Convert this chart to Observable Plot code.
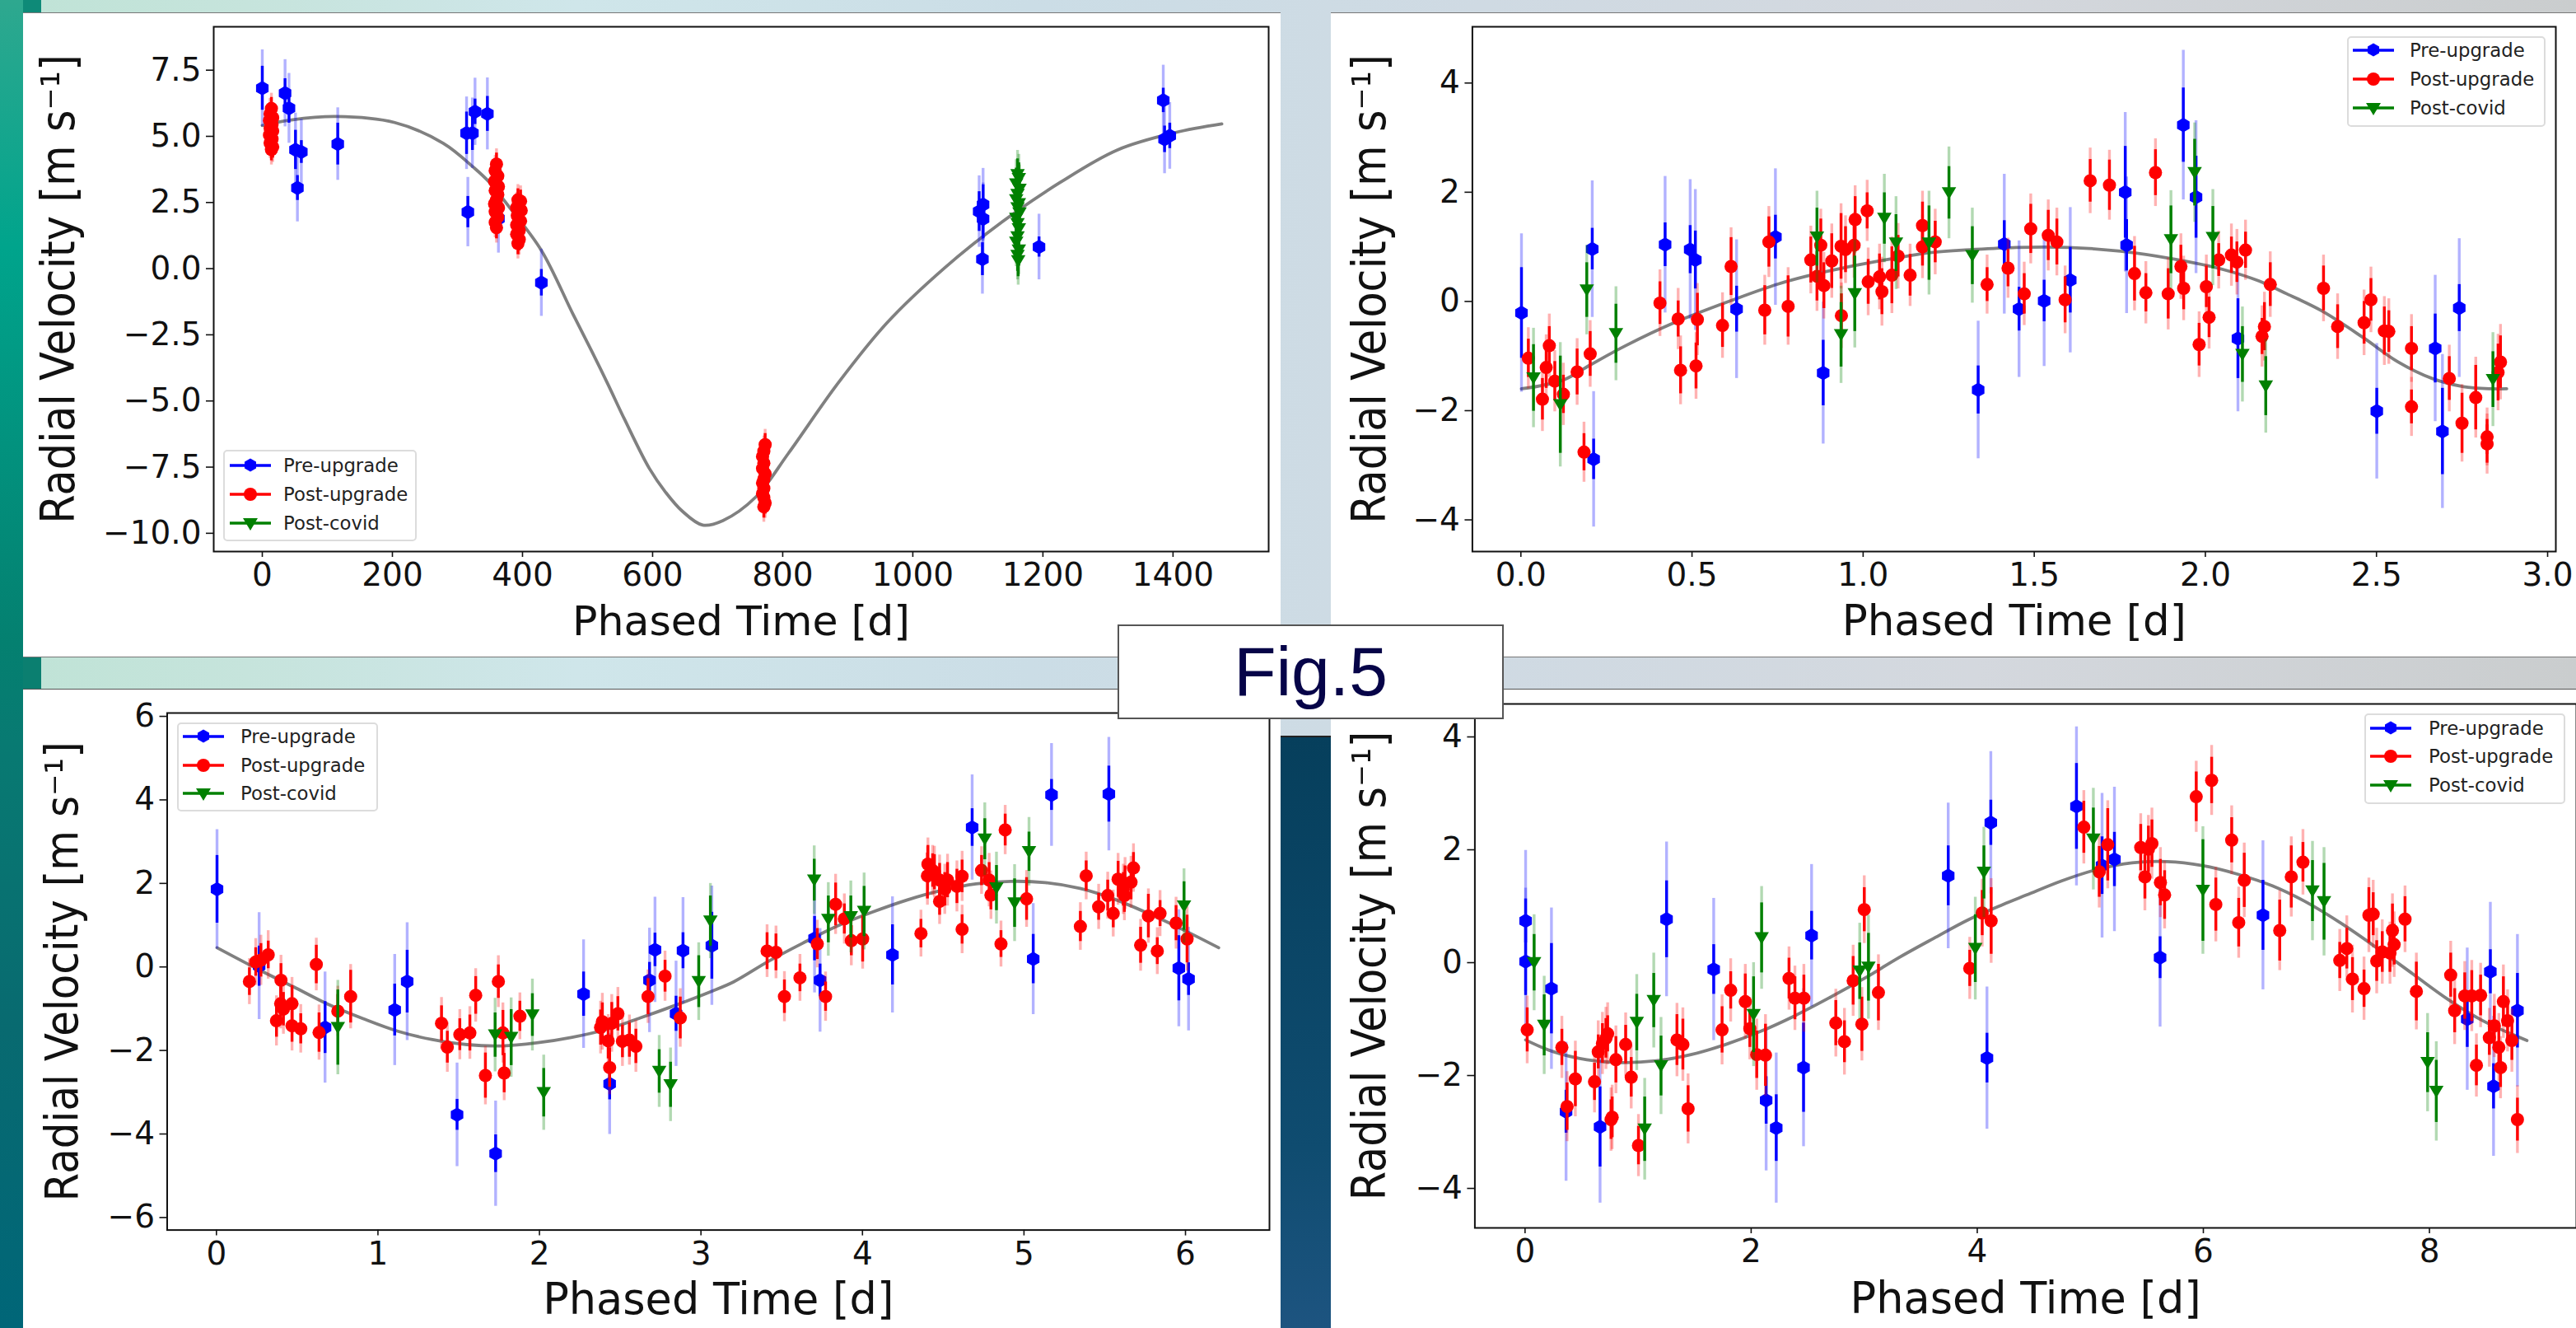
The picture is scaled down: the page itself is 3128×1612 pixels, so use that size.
<!DOCTYPE html>
<html>
<head>
<meta charset="utf-8">
<script src="https://cdn.jsdelivr.net/npm/d3@7"></script>
<script src="https://cdn.jsdelivr.net/npm/@observablehq/plot@0.6"></script>
<style>
html,body{margin:0;padding:0;background:#fff}
#page{position:relative;width:3128px;height:1612px;overflow:hidden;font-family:"DejaVu Sans",sans-serif}
.abs{position:absolute}
</style>
</head>
<body>
<div id="page"></div>
<script>
// ---------- Panel 1 (full orbit, days) ----------
const p1PreX=[0,35,41,51,60,54,116,314,323,327,346,316,363,429,1102,1108,1108,1107,1194,1385,1387,1395];
const p1PreY=[6.82,6.63,6.06,4.49,4.41,3.05,4.71,5.12,5.12,5.93,5.85,2.14,1.89,-0.53,2.16,2.42,1.88,0.36,0.82,6.36,4.89,5.02];
const p1PreIn=[.83,.55,.56,.74,.43,.47,.79,.8,.65,.48,.66,.59,.5,.5,.75,.75,.75,.62,.38,.46,.5,.48];
const p1PreOut=[1.45,1.27,1.32,1.39,1.24,1.28,1.37,1.37,1.33,1.27,1.36,1.31,1.3,1.27,1.35,1.37,1.36,1.32,1.24,1.33,1.3,1.26];
const p1PostX=[14,12,16,11,15,12,16,11,15,12,16,14, 360,358,362,357,363,358,362,360,357,363,358,362,358,360, 393,397,391,398,392,397,391,395,391,395,393, 773,771,769,771,769,773,771,769,771,769,771,773,771];
const p1PostY=[6.05,5.85,5.7,5.6,5.45,5.3,5.2,5.05,4.9,4.75,4.6,4.5, 3.95,3.7,3.5,3.3,3.1,2.95,2.8,2.6,2.45,2.3,2.15,1.95,1.75,1.55, 2.6,2.55,2.3,2.2,2.0,1.8,1.65,1.45,1.3,1.1,.95, -6.65,-6.9,-7.1,-7.35,-7.55,-7.75,-7.95,-8.1,-8.3,-8.5,-8.65,-8.85,-9.0];
const p1PostIn=p1PostY.map(()=>.42);
const p1PostOut=p1PostY.map(()=>.58);
const p1CovX=[1161,1163,1159,1164,1161,1159,1163,1161,1164,1159,1161,1163,1161,1159,1163,1161,1162];
const p1CovY=[3.55,3.4,3.2,3.0,2.8,2.6,2.45,2.3,2.1,1.9,1.7,1.5,1.2,1.0,.7,.5,.3];
const p1CovIn=p1CovY.map(()=>.6);
const p1CovOut=p1CovY.map(()=>.92);
const p1CurveX=[0,44.5,113.6,203.6,278,326,350,379,429,477,506,531,557,595,620,645,677,708,759,809,885,961,1049,1137,1226,1314,1403,1475];
const p1CurveY=[5.41,5.62,5.75,5.52,4.74,3.8,3.24,2.35,.69,-1.69,-3.1,-4.35,-5.7,-7.55,-8.45,-9.15,-9.69,-9.52,-8.62,-6.97,-4.33,-2.03,.03,1.76,3.25,4.48,5.14,5.47];

// ---------- Panel 2 (P = 2.9 d) ----------
const p2PreX=[0,.206,.21,.418,.491,.506,.626,.739,.878,1.329,1.405,1.448,1.521,1.597,1.757,1.761,1.926,1.963,2.085,2.489,2.659,2.68,2.729];
const p2PreY=[-.21,.96,-2.89,1.04,.95,.76,-.14,1.18,-1.31,-1.62,1.05,-.14,.01,.39,2.0,1.03,3.23,1.91,-.68,-2.01,-.86,-2.38,-.12];
const p2PreIn=[.83,.38,.37,.40,.44,.53,.42,.40,.6,.44,.43,.40,.38,.6,.84,.47,.68,.75,.73,.42,.63,.79,.43];
const p2PreOut=[1.45,1.25,1.24,1.25,1.28,1.29,1.27,1.25,1.3,1.26,1.28,1.25,1.2,1.33,1.46,1.25,1.37,1.40,1.34,1.24,1.34,1.41,1.27];
const p2PostX=[.02,.081,.072,.061,.097,.122,.162,.182,.2,.403,.456,.463,.512,.508,.585,.61,.708,.72,.776,.842,.86,.871,.88,.903,.931,.93,.943,.968,.971,1.006,1.009,1.042,1.049,1.078,1.096,1.131,1.167,1.167,1.204,1.355,1.416,1.463,1.582,1.482,1.533,1.558,1.655,1.711,1.845,1.784,1.817,1.882,1.919,1.927,1.993,1.972,2.001,2.029,2.066,2.082,2.107,2.179,2.155,2.162,2.334,2.375,2.452,2.472,2.511,2.524,2.59,2.59,2.7,2.737,2.777,2.81,2.81,2.842,2.849];
const p2PostY=[-1.04,-.81,-1.21,-1.79,-1.46,-1.70,-1.29,-2.76,-.96,-.03,-.32,-1.26,-.33,-1.18,-.44,.64,-.16,1.09,-.09,.76,.46,1.03,.29,.74,-.26,1.01,.95,1.03,1.5,1.66,.36,.45,.18,.48,.83,.48,1.39,1.0,1.09,.31,.61,.14,.03,1.33,1.21,1.09,2.21,2.13,2.36,.51,.16,.14,.64,.24,.27,-.79,-.29,.76,.85,.72,.94,.31,-.64,-.46,.24,-.46,-.39,.03,-.54,-.55,-.86,-1.93,-1.41,-2.23,-1.76,-2.48,-2.61,-1.3,-1.11];
const p2PostIn=[.35,.35,.38,.38,.36,.35,.42,.34,.41,.39,.33,.43,.48,.42,.40,.53,.45,.46,.56,.42,.45,.48,.42,.5,.4,.6,.42,.4,.42,.33,.41,.42,.42,.52,.38,.38,.43,.35,.38,.31,.34,.37,.42,.45,.46,.42,.39,.46,.42,.5,.35,.46,.39,.39,.38,.39,.37,.3,.33,.37,.33,.4,.33,.44,.41,.4,.39,.39,.44,.38,.4,.31,.4,.55,.59,.32,.35,.52,.48];
const p2PostOut=[.56,.58,.6,.59,.56,.57,.61,.55,.61,.61,.56,.63,.66,.61,.60,.71,.64,.65,.71,.62,.64,.66,.61,.68,.6,.78,.62,.6,.62,.56,.62,.6,.63,.70,.6,.57,.63,.58,.6,.54,.55,.58,.62,.64,.65,.62,.6,.64,.62,.68,.57,.66,.6,.59,.58,.6,.58,.53,.57,.6,.55,.6,.56,.63,.61,.6,.6,.6,.63,.6,.62,.54,.61,.71,.74,.53,.55,.7,.69];
const p2CovX=[.035,.19,.275,.113,.86,.93,.97,1.056,1.09,1.186,1.244,1.312,1.89,1.959,2.012,2.098,2.166,2.827];
const p2CovY=[-1.40,.21,-.59,-1.89,1.18,-.61,.14,1.52,1.07,1.07,1.99,.84,1.13,2.36,1.17,-.97,-1.55,-1.43];
const p2CovIn=[.61,.5,.54,.89,.53,.59,.69,.47,.52,.68,.48,.53,.62,.61,.57,.51,.54,.51];
const p2CovOut=[.91,.82,.86,1.14,.84,.89,.99,.81,.85,.95,.84,.87,.90,.91,.88,.87,.86,.86];
const p2CurveX=[0,.121,.202,.303,.444,.616,.747,.868,1.049,1.19,1.311,1.44,1.591,1.743,1.894,2.045,2.146,2.227,2.328,2.449,2.549,2.65,2.741,2.822,2.867];
const p2CurveY=[-1.6,-1.44,-1.155,-.81,-.39,.03,.32,.52,.75,.895,.95,.99,.99,.92,.78,.58,.375,.14,-.17,-.66,-1.10,-1.41,-1.56,-1.6,-1.6];

// ---------- Panel 3 (P = 6.2 d) ----------
const p3PreX=[0,.26,.667,1.097,1.174,1.482,1.72,2.263,2.424,2.67,2.704,2.877,2.834,3.055,3.689,3.723,4.17,4.662,5.152,5.506,5.039,5.938,5.998];
const p3PreY=[1.86,.02,-1.45,-1.03,-.35,-3.54,-4.47,-.65,-2.8,-.32,.41,.39,-1.12,.51,.68,-.32,.29,3.34,4.12,4.14,.19,-.03,-.29];
const p3PreIn=[.81,.48,.62,.62,.75,.37,.45,.53,.38,.43,.40,.43,.42,.8,.53,.39,.72,.45,.37,.67,.59,.78,.39];
const p3PreOut=[1.43,1.28,1.33,1.33,1.41,1.24,1.26,1.30,1.21,1.25,1.26,1.27,1.26,1.43,1.3,1.24,1.39,1.26,1.23,1.36,1.33,1.4,1.24];
const p3PostX=[.2,.239,.271,.316,.395,.393,.41,.463,.367,.463,.517,.613,.63,.746,.825,1.386,1.422,1.499,1.561,1.597,1.657,1.737,1.765,1.773,1.87,2.379,2.368,2.437,2.415,2.475,2.424,2.503,2.546,2.586,2.661,2.766,2.86,3.396,3.451,3.503,3.599,3.706,3.757,3.819,3.873,3.916,3.986,4.346,4.6,4.389,4.418,4.386,4.429,4.461,4.51,4.493,4.461,4.568,4.6,4.72,4.767,4.778,4.866,4.84,4.998,5.33,5.366,5.443,5.499,5.533,5.563,5.595,5.602,5.643,5.658,5.606,5.702,5.75,5.822,5.805,5.921,5.989];
const p3PostY=[-.35,.12,.16,.29,-.32,-.88,-1.01,-.88,-1.29,-1.41,-1.48,.06,-1.57,-1.06,-.71,-1.35,-1.92,-1.62,-1.58,-.68,-2.6,-.35,-1.58,-2.54,-1.18,-1.31,-1.45,-1.35,-1.77,-1.12,-2.41,-1.78,-1.75,-1.9,-.71,-.22,-1.22,.38,.35,-.71,-.26,.55,-.71,1.5,1.15,.63,.67,.8,.9,2.46,2.31,2.18,2.27,2.08,2.08,1.86,1.57,1.93,2.17,2.31,2.08,1.72,3.28,.55,1.63,.97,2.18,1.44,1.71,1.28,2.1,1.86,1.71,2.03,2.37,2.0,.52,1.22,1.28,.38,1.05,.67];
const p3PostIn=[.33,.34,.4,.33,.4,.4,.4,.43,.39,.39,.36,.46,.47,.4,.63,.42,.38,.38,.43,.45,.54,.4,.54,.47,.36,.45,.42,.5,.43,.41,.47,.39,.41,.41,.43,.38,.5,.44,.44,.4,.33,.37,.35,.51,.36,.36,.55,.34,.35,.45,.4,.55,.42,.4,.42,.4,.33,.41,.39,.36,.42,.35,.38,.32,.51,.36,.36,.32,.37,.34,.43,.4,.4,.42,.37,.42,.43,.52,.31,.32,.42,.57];
const p3PostOut=[.55,.56,.6,.58,.6,.6,.6,.63,.6,.6,.58,.63,.66,.6,.77,.62,.6,.6,.63,.64,.7,.62,.72,.66,.56,.68,.63,.69,.63,.63,.65,.6,.6,.62,.64,.6,.7,.63,.63,.6,.56,.57,.59,.72,.6,.6,.72,.56,.58,.63,.6,.7,.62,.6,.62,.6,.55,.61,.6,.57,.64,.58,.59,.55,.68,.57,.57,.54,.56,.56,.62,.6,.6,.62,.58,.62,.62,.65,.55,.56,.62,.77];
const p3CovX=[.746,1.717,1.816,1.947,2.017,2.73,2.8,2.974,3.046,3.687,3.774,3.913,3.995,4.74,4.812,4.924,5.013,5.97];
const p3CovY=[-1.45,-1.63,-1.69,-1.15,-3.01,-2.5,-2.82,-.35,1.10,2.08,1.14,1.2,1.33,3.06,1.89,1.53,2.76,1.46];
const p3CovIn=[.9,.53,.67,.51,.58,.52,.54,.62,.6,.5,.56,.5,.6,.49,.54,.58,.47,.58];
const p3CovOut=[1.13,.88,.95,.86,.9,.86,.88,.93,.9,.82,.88,.86,.92,.87,.86,.92,.82,.89];
const p3CurveX=[0,.26,.474,.688,.902,1.116,1.33,1.544,1.758,1.972,2.186,2.4,2.614,2.828,3.042,3.188,3.402,3.616,3.83,4.044,4.258,4.472,4.686,4.9,5.114,5.328,5.542,5.756,5.97,6.184];
const p3CurveY=[.46,-.07,-.48,-.9,-1.24,-1.54,-1.74,-1.86,-1.89,-1.82,-1.69,-1.5,-1.22,-.92,-.6,-.36,.13,.57,.98,1.31,1.6,1.83,1.99,2.05,2.02,1.88,1.62,1.27,.88,.46];

// ---------- Panel 4 (P = 8.8 d) ----------
const p4PreX=[0,0,.228,.357,.657,1.244,1.66,2.123,2.212,2.453,2.524,3.73,4.106,4.072,4.862,5.088,5.197,5.6,6.508,8.311,8.515,8.543,8.754];
const p4PreY=[.74,.02,-.46,-2.64,-2.91,.77,-.12,-2.44,-2.93,-1.86,.48,1.54,2.48,-1.69,2.77,1.72,1.83,.09,.84,-1.0,-.16,-2.19,-.85];
const p4PreIn=[.39,.6,.8,.38,.71,.68,.44,.42,.59,.79,.43,.53,.4,.44,.76,.51,.48,.37,.62,.5,.39,.4,.66];
const p4PreOut=[1.25,1.3,1.43,1.23,1.35,1.37,1.26,1.25,1.33,1.4,1.26,1.29,1.26,1.26,1.41,1.28,1.28,1.23,1.32,1.26,1.23,1.24,1.35];
const p4PostX=[.014,.32,.439,.366,.608,.641,.678,.709,.724,.797,.883,.932,.764,.754,.996,1.336,1.388,1.434,1.734,1.81,1.939,1.979,2.04,2.117,2.325,2.377,2.456,2.738,2.814,2.891,2.968,2.989,3.114,3.92,4.03,4.109,4.927,5.138,5.063,5.429,5.497,5.528,5.466,5.603,5.64,5.919,6.055,6.232,6.343,6.092,6.294,6.656,6.758,6.861,7.186,7.248,7.298,7.4,7.443,7.481,7.512,7.561,7.629,7.666,7.651,7.762,7.862,8.165,8.2,8.289,8.351,8.429,8.392,8.506,8.55,8.59,8.605,8.63,8.667,8.705,8.754];
const p4PostY=[-1.19,-1.5,-2.06,-2.55,-2.11,-1.58,-1.43,-1.34,-1.26,-1.72,-1.45,-2.03,-2.74,-2.78,-3.24,-1.37,-1.45,-2.59,-1.19,-.49,-.69,-1.17,-1.63,-1.64,-.28,-.63,-.63,-1.07,-1.4,-.32,-1.09,.94,-.53,-.1,.88,.74,2.4,2.09,1.61,2.04,2.01,2.11,1.52,1.42,1.2,2.94,3.23,2.17,1.46,1.03,.71,.57,1.52,1.78,.04,.25,-.29,-.46,.84,.86,.03,.19,.17,.32,.57,.77,-.51,-.22,-.85,-.59,-.59,-.58,-1.82,-1.33,-1.12,-1.5,-1.86,-.69,-1.03,-1.38,-2.78];
const p4PostIn=[.39,.32,.49,.42,.33,.3,.35,.35,.32,.41,.34,.35,.36,.35,.34,.45,.45,.41,.41,.33,.49,.33,.42,.55,.36,.38,.41,.4,.37,.43,.48,.39,.5,.32,.4,.59,.46,.64,.45,.41,.41,.42,.39,.41,.43,.44,.41,.4,.48,.47,.43,.54,.55,.35,.32,.36,.38,.33,.49,.38,.36,.36,.34,.36,.47,.4,.52,.39,.39,.41,.45,.36,.36,.31,.35,.39,.35,.44,.35,.35,.38];
const p4PostOut=[.6,.55,.67,.62,.55,.55,.55,.55,.55,.6,.56,.56,.57,.56,.55,.65,.65,.62,.62,.56,.66,.55,.63,.72,.56,.57,.6,.6,.59,.63,.65,.6,.67,.55,.6,.75,.65,.78,.64,.6,.6,.63,.6,.62,.6,.63,.62,.61,.66,.66,.63,.71,.71,.58,.55,.58,.6,.56,.66,.6,.58,.57,.55,.58,.65,.59,.68,.6,.6,.61,.63,.57,.56,.52,.56,.6,.55,.65,.55,.56,.6];
const p4CovX=[.075,.164,.981,1.131,1.195,1.051,2.012,2.083,2.949,3.026,3.969,4.045,5.011,5.978,6.945,7.047,7.961,8.038];
const p4CovY=[0,-1.11,-1.06,-.67,-1.83,-2.95,-.92,.44,-.15,-.08,.25,1.6,2.19,1.28,1.27,1.08,-1.77,-2.28];
const p4CovIn=[.5,.54,.5,.48,.53,.57,.67,.62,.5,.6,.6,.47,.55,.9,.54,.68,.53,.55];
const p4CovOut=[.85,.87,.85,.84,.86,.9,.92,.91,.85,.92,.91,.8,.9,1.13,.88,.96,.87,.88];
const p4CurveX=[0,.234,.54,.846,1.152,1.459,1.765,2.071,2.377,2.683,2.989,3.295,3.601,3.907,4.213,4.422,4.732,5.042,5.352,5.662,5.971,6.281,6.591,6.901,7.211,7.521,7.831,8.141,8.45,8.838];
const p4CurveY=[-1.37,-1.57,-1.72,-1.77,-1.74,-1.63,-1.45,-1.22,-.94,-.62,-.28,.09,.43,.76,1.03,1.2,1.45,1.65,1.77,1.79,1.72,1.57,1.36,1.06,.68,.25,-.2,-.65,-1.03,-1.38];

// ---------- Tick values and text ----------
const p1XTicks=[0,200,400,600,800,1000,1200,1400];
const p1YTicks=[-10,-7.5,-5,-2.5,0,2.5,5,7.5];
const p2XTicks=[0,.5,1,1.5,2,2.5,3];
const p2YTicks=[-4,-2,0,2,4];
const p3XTicks=[0,1,2,3,4,5,6];
const p3YTicks=[-6,-4,-2,0,2,4,6];
const p4XTicks=[0,2,4,6,8];
const p4YTicks=[-4,-2,0,2,4];
const seriesNames=["Pre-upgrade","Post-upgrade","Post-covid"];
const xLabel="Phased Time [d]";
const yLabel="Radial Velocity [m s\u207B\u00B9]";
const figLabel="Fig.5";

// ---------- Styles ----------
const BLUE="#0000ff",RED="#ff0000",GREEN="#008000";
const triangleDown={draw(ctx,size){const r=Math.sqrt(size/Math.PI);
  ctx.moveTo(-r*1.1,-r*0.85);ctx.lineTo(r*1.1,-r*0.85);ctx.lineTo(0,r*1.0);ctx.closePath();}};
// cal: reading-to-axis calibration of the phase axis (offset, factor) from the tick positions
const zip=(x,y,a,b,cal)=>x.map((v,i)=>({x:cal[0]+cal[1]*v,y:y[i],a:a[i],b:b[i]}));

function seriesMarks(rows,color,symbol,r){
  return [
    Plot.ruleX(rows,{x:"x",y1:d=>d.y-d.b,y2:d=>d.y+d.b,stroke:color,strokeOpacity:.3,strokeWidth:3.4}),
    Plot.ruleX(rows,{x:"x",y1:d=>d.y-d.a,y2:d=>d.y+d.a,stroke:color,strokeWidth:3.4}),
    Plot.dot(rows,{x:"x",y:"y",r,fill:color,stroke:null,symbol})
  ];
}

function panel(c){
  const marks=[
    Plot.line(c.curveX.map((v,i)=>({x:c.cal[0]+c.cal[1]*v,y:c.curveY[i]})),{x:"x",y:"y",stroke:"#808080",strokeWidth:3.8,curve:"catmull-rom"}),
    ...seriesMarks(c.pre,BLUE,"hexagon",7.6),
    ...seriesMarks(c.post,RED,"circle",8),
    ...seriesMarks(c.cov,GREEN,triangleDown,8),
    Plot.frame({stroke:"#111",strokeWidth:2}),
    Plot.axisX(c.xTicks,{tickSize:7,tickPadding:7,fontSize:39,tickFormat:c.xFmt,label:null,stroke:"#111",strokeWidth:1.6,fill:"#111"}),
    Plot.axisY(c.yTicks,{tickSize:9,tickPadding:6,fontSize:39,tickFormat:c.yFmt,label:null,stroke:"#111",strokeWidth:1.6,fill:"#111"}),
    Plot.text([xLabel],{frameAnchor:"bottom",dy:c.xdy,fontSize:c.xfs,lineAnchor:"middle",textAnchor:"middle",fill:"#111"}),
    Plot.text([yLabel],{frameAnchor:"left",dx:c.ydx,fontSize:c.yfs,rotate:-90,lineAnchor:"middle",textAnchor:"middle",fill:"#111"})
  ];
  const svg=Plot.plot({
    width:c.w,height:c.h,marginLeft:c.ml,marginRight:c.mr,marginTop:c.mt,marginBottom:c.mb,
    x:{domain:c.xDomain},y:{domain:c.yDomain},
    style:{background:"#fff",fontFamily:"DejaVu Sans",maxWidth:"none",overflow:"hidden"},
    marks
  });
  svg.style.position="absolute";svg.style.left=c.left+"px";svg.style.top=c.top+"px";
  svg.style.width=c.w+"px";svg.style.height=c.h+"px";
  // the reference's axis title is a little stretched across its baseline
  d3.select(svg).selectAll("text").filter(function(){return this.textContent===yLabel;})
    .each(function(){const t=this.getAttribute("transform")||"";this.setAttribute("transform",t+" scale(1,1.1)");});
  return svg;
}

function addBox(page,l,t,w,h,css){
  const d=document.createElement("div");d.className="abs";
  d.style.cssText+=`left:${l}px;top:${t}px;width:${w}px;height:${h}px;${css}`;
  page.appendChild(d);return d;
}

function legend(page,c){
  const d=addBox(page,c.l,c.t,c.w,c.h,"background:#fff;border:2px solid #dcdcdc;border-radius:5px;box-sizing:border-box;");
  const col=[BLUE,RED,GREEN];
  seriesNames.forEach((name,i)=>{
    const cy=c.rows[i]-c.t-2;
    const s=document.createElementNS("http://www.w3.org/2000/svg","svg");
    s.setAttribute("width",52);s.setAttribute("height",24);
    s.style.cssText=`position:absolute;left:${c.sw-c.l-2}px;top:${cy-12}px`;
    const marker=i==0?`<path d="M26,3.5L33,7.5V15.5L26,19.5L19,15.5V7.5Z" fill="${col[i]}"/>`
      :i==1?`<circle cx="26" cy="12" r="8" fill="${col[i]}"/>`
      :`<path d="M17,6H35L26,21Z" fill="${col[i]}"/>`;
    s.innerHTML=`<line x1="1" x2="51" y1="12" y2="12" stroke="${col[i]}" stroke-width="3.6"/>${marker}`;
    d.appendChild(s);
    const t=document.createElement("div");t.textContent=name;
    t.style.cssText=`position:absolute;left:${c.tx-c.l-2}px;top:${cy-15}px;font:22.8px/30px "DejaVu Sans";color:#222;white-space:nowrap`;
    d.appendChild(t);
  });
}

const page=document.getElementById("page");
// Background picture strips
addBox(page,0,0,3128,1612,"background:linear-gradient(90deg,#bfe3d6 0,#c6e4dc 300px,#cfe6ea 700px,#cbdde6 1250px,#cfdae3 1800px,#d4d8de 2400px,#cacdce 3128px)");
addBox(page,0,0,28,1612,"background:linear-gradient(180deg,#2ea88f 0,#00a48c 300px,#048070 780px,#087a72 900px,#086a70 1250px,#006678 1612px)");
addBox(page,28,0,22,16,"background:#0e8a78");
addBox(page,28,797,22,40,"background:#0b7f70");
addBox(page,1555,895,61,717,"background:linear-gradient(180deg,#063f5c 0,#0f4c70 500px,#1d5480 717px)");
addBox(page,1555,893,61,2,"background:#222");
// Gray hairlines of the strips between the cards
addBox(page,1555,796,1573,2,"background:#777");
addBox(page,1555,836,1573,2,"background:#555");
addBox(page,28,796,1527,2,"background:#777");
addBox(page,28,836,1527,2,"background:#555");
addBox(page,28,15,1527,1.5,"background:#777");
addBox(page,1616,15,1512,1.5,"background:#777");

const fmt1=d3.format(".1f"),fmtI=d3.format("d");
const cal1=[0,1],cal2=[.0017,1.00409],cal3=[.0036,1.0029],cal4=[.005,1.0022];
const panels=[
 {left:28,top:16,w:1527,h:781,ml:231,mr:15,mt:16,mb:128,xDomain:[-74.7,1547],yDomain:[-10.69,9.14],
  xTicks:p1XTicks,yTicks:p1YTicks,xFmt:fmtI,yFmt:fmt1,xdy:85,ydx:-187,xfs:50.5,yfs:51,cal:cal1,curveX:p1CurveX,curveY:p1CurveY,
  pre:zip(p1PreX,p1PreY,p1PreIn,p1PreOut,cal1),post:zip(p1PostX,p1PostY,p1PostIn,p1PostOut,cal1),cov:zip(p1CovX,p1CovY,p1CovIn,p1CovOut,cal1)},
 {left:1616,top:16,w:1512,h:781,ml:171.4,mr:25,mt:16,mb:128,xDomain:[-.1417,3.024],yDomain:[-4.58,5.03],
  xTicks:p2XTicks,yTicks:p2YTicks,xFmt:fmt1,yFmt:fmtI,xdy:85,ydx:-124,xfs:51.5,yfs:51,cal:cal2,curveX:p2CurveX,curveY:p2CurveY,
  pre:zip(p2PreX,p2PreY,p2PreIn,p2PreOut,cal2),post:zip(p2PostX,p2PostY,p2PostIn,p2PostOut,cal2),cov:zip(p2CovX,p2CovY,p2CovIn,p2CovOut,cal2)},
 {left:28,top:837,w:1527,h:775,ml:174.5,mr:14,mt:28,mb:119.4,xDomain:[-.305,6.52],yDomain:[-6.30,6.08],
  xTicks:p3XTicks,yTicks:p3YTicks,xFmt:fmtI,yFmt:fmtI,xdy:85,ydx:-127,xfs:52.5,yfs:50,cal:cal3,curveX:p3CurveX,curveY:p3CurveY,
  pre:zip(p3PreX,p3PreY,p3PreIn,p3PreOut,cal3),post:zip(p3PostX,p3PostY,p3PostIn,p3PostOut,cal3),cov:zip(p3CovX,p3CovY,p3CovIn,p3CovOut,cal3)},
 {left:1616,top:837,w:1512,h:775,ml:174.4,mr:0,mt:17,mb:122,xDomain:[-.444,9.30],yDomain:[-4.70,4.584],
  xTicks:p4XTicks,yTicks:p4YTicks,xFmt:fmtI,yFmt:fmtI,xdy:87,ydx:-127,xfs:52.5,yfs:51,cal:cal4,curveX:p4CurveX,curveY:p4CurveY,
  pre:zip(p4PreX,p4PreY,p4PreIn,p4PreOut,cal4),post:zip(p4PostX,p4PostY,p4PostIn,p4PostOut,cal4),cov:zip(p4CovX,p4CovY,p4CovIn,p4CovOut,cal4)}
];
panels.forEach(c=>page.appendChild(panel(c)));

legend(page,{l:271,t:546,w:235,h:111,sw:278,tx:344,rows:[565,600,635]});
legend(page,{l:2850,t:44,w:241,h:110,sw:2856,tx:2926,rows:[61,96,131]});
legend(page,{l:215,t:877,w:244,h:108,sw:221,tx:292,rows:[894,928.6,962.5]});
legend(page,{l:2871,t:866,w:244,h:110,sw:2877,tx:2949,rows:[883.7,918.2,952.6]});

// Caption box
const fig=addBox(page,1357,758,469,115,"background:#fff;border:2px solid #555;box-sizing:border-box;display:flex;align-items:center;justify-content:center;color:#060448;font:84px 'Liberation Sans',Arial,sans-serif");
fig.textContent=figLabel;
</script>
</body>
</html>
